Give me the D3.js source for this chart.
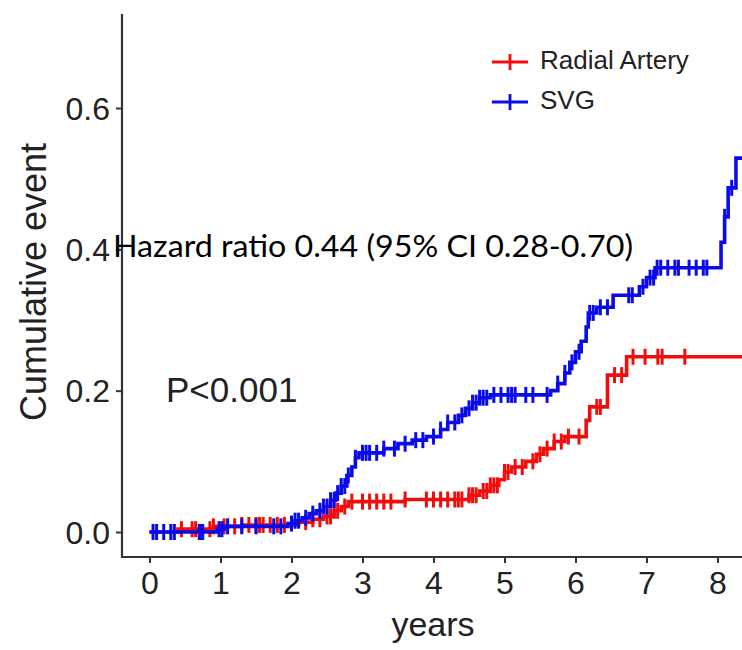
<!DOCTYPE html>
<html><head><meta charset="utf-8">
<script src="https://cdn.jsdelivr.net/npm/d3@7"></script>
<style>body{margin:0;background:#fff}svg{display:block}</style>
</head><body><svg id="c" width="742" height="650"></svg>
<script>
// ---- data ----
const seriesNames = ["Radial Artery", "SVG"];
const seriesColors = ["#f20d0d", "#0b0bea"];
const xTicks = [0,1,2,3,4,5,6,7,8];
const yTicks = [0.0,0.2,0.4,0.6];
const yTickLabels = ["0.0","0.2","0.4","0.6"];

// Radial Artery step points [time, cumulative event]
const raTimes = [0,0.4,0.9,1.3,2.1,2.3,2.45,2.6,2.7,2.8,3.6,4.5,4.65,4.8,4.92,5.0,5.1,5.3,5.45,5.55,5.7,5.85,6.15,6.2,6.45,6.72];
const raValues= [0,0.004,0.008,0.01,0.014,0.018,0.022,0.03,0.036,0.043,0.046,0.052,0.058,0.066,0.074,0.085,0.092,0.1,0.11,0.118,0.128,0.135,0.158,0.177,0.222,0.248];
const raCensor = [0.45,0.6,0.65,0.85,0.9,1.05,1.2,1.3,1.4,1.5,1.55,1.6,1.7,1.8,1.9,2.2,2.3,2.4,2.5,2.55,2.6,2.65,2.75,2.85,3.0,3.1,3.2,3.3,3.4,3.6,3.9,4.0,4.1,4.2,4.3,4.35,4.4,4.5,4.55,4.6,4.7,4.75,4.8,4.85,4.9,5.0,5.05,5.15,5.25,5.4,5.5,5.6,5.7,5.8,5.9,6.05,6.3,6.35,6.55,6.65,6.81,6.98,7.16,7.22,7.54];

// SVG step points
const svgTimes = [0,0.95,1.05,1.95,2.05,2.15,2.25,2.35,2.45,2.55,2.62,2.7,2.78,2.85,2.9,2.95,3.3,3.5,3.7,3.9,4.1,4.2,4.35,4.45,4.55,4.65,4.8,5.65,5.75,5.85,5.92,6.0,6.08,6.15,6.18,6.3,6.53,6.9,7.0,7.12,8.05,8.1,8.15,8.26];
const svgValues= [0,0.004,0.008,0.012,0.016,0.02,0.026,0.03,0.036,0.045,0.055,0.065,0.08,0.092,0.105,0.112,0.118,0.125,0.13,0.135,0.145,0.155,0.165,0.175,0.183,0.19,0.194,0.2,0.21,0.225,0.24,0.255,0.27,0.29,0.31,0.318,0.335,0.347,0.36,0.374,0.41,0.446,0.487,0.529];
const svgCensor = [0.05,0.1,0.2,0.3,0.35,0.7,0.72,0.75,0.98,1.02,1.1,1.3,1.5,1.75,1.85,2.0,2.05,2.1,2.2,2.3,2.4,2.45,2.5,2.55,2.6,2.65,2.7,2.75,2.8,2.9,3.0,3.05,3.1,3.2,3.3,3.45,3.6,3.75,3.85,4.0,4.1,4.2,4.3,4.4,4.5,4.55,4.6,4.65,4.7,4.75,4.85,4.95,5.05,5.1,5.15,5.3,5.4,5.6,5.75,5.85,5.95,6.05,6.2,6.25,6.35,6.45,6.75,6.8,6.95,7.05,7.1,7.15,7.2,7.3,7.4,7.45,7.6,7.7,7.8,7.85,8.1,8.2];

const annotHR = "Hazard ratio 0.44 (95% CI 0.28-0.70)";
const annotP = "P<0.001";
const xTitle = "years";
const yTitle = "Cumulative event";

// ---- drawing ----
(function(){
const svg = d3.select("#c");
const x = d3.scaleLinear().domain([0,8]).range([149.5,717.5]);
const y = d3.scaleLinear().domain([0,0.6]).range([532,108]);
const axisColor = "#333";
const pLeft = 122, pBottom = 557, pTop = 14, pRight = 742;
const font = "'Liberation Sans', Arial, Helvetica, sans-serif";

svg.append("clipPath").attr("id","plot").append("rect")
  .attr("x", pLeft+1).attr("y", 0).attr("width", pRight-pLeft).attr("height", pBottom-1);

const xAxis = d3.axisBottom(x).tickValues(xTicks).tickSize(6).tickPadding(8).tickFormat(d3.format("d"));
const gx = svg.append("g").attr("transform",`translate(0,${pBottom})`).call(xAxis);
gx.select(".domain").remove();
gx.selectAll(".tick line").attr("stroke",axisColor).attr("stroke-width",2);
gx.selectAll(".tick text").attr("font-family",font).attr("font-size",32).attr("fill","#222").attr("dy","0.71em");

const yAxis = d3.axisLeft(y).tickValues(yTicks).tickSize(6).tickPadding(6).tickFormat((d,i)=>yTickLabels[i]);
const gy = svg.append("g").attr("transform",`translate(${pLeft},0)`).call(yAxis);
gy.select(".domain").remove();
gy.selectAll(".tick line").attr("stroke",axisColor).attr("stroke-width",2);
gy.selectAll(".tick text").attr("font-family",font).attr("font-size",32).attr("fill","#222").attr("dy","0.35em");

svg.append("line").attr("x1",pLeft).attr("x2",pLeft).attr("y1",pTop).attr("y2",pBottom+1)
  .attr("stroke",axisColor).attr("stroke-width",2.2);
svg.append("line").attr("x1",pLeft-1).attr("x2",pRight).attr("y1",pBottom).attr("y2",pBottom)
  .attr("stroke",axisColor).attr("stroke-width",2.2);

svg.append("text").attr("x",433).attr("y",627).attr("text-anchor","middle").attr("dominant-baseline","middle")
  .attr("font-family",font).attr("font-size",34).attr("fill","#222").text(xTitle);
svg.append("text").attr("transform","translate(36,282) rotate(-90)").attr("text-anchor","middle")
  .attr("dominant-baseline","middle").attr("font-family",font).attr("font-size",36).attr("fill","#222").text(yTitle);

const plot = svg.append("g").attr("clip-path","url(#plot)");
const line = d3.line().x(d=>x(d[0])).y(d=>y(d[1])).curve(d3.curveStepAfter);
const xEnd = x.invert(pRight+5);
const series = [
  {times: raTimes, values: raValues, censor: raCensor, color: seriesColors[0]},
  {times: svgTimes, values: svgValues, censor: svgCensor, color: seriesColors[1]}
];
const bis = d3.bisector(d=>d).right;
series.forEach(s=>{
  const pts = s.times.map((t,i)=>[t, s.values[i]]);
  pts.push([xEnd, s.values[s.values.length-1]]);
  plot.append("path").attr("d", line(pts)).attr("fill","none")
    .attr("stroke", s.color).attr("stroke-width",3.6);
  const g = plot.append("g");
  s.censor.forEach(t=>{
    const v = s.values[Math.max(0, bis(s.times, t)-1)];
    g.append("line").attr("x1",x(t)).attr("x2",x(t)).attr("y1",y(v)-8).attr("y2",y(v)+8)
      .attr("stroke", s.color).attr("stroke-width",3);
  });
});

seriesNames.forEach((name,i)=>{
  const ly = 62 + i*40;
  svg.append("line").attr("x1",492).attr("x2",528).attr("y1",ly).attr("y2",ly)
    .attr("stroke",seriesColors[i]).attr("stroke-width",3.2);
  svg.append("line").attr("x1",510).attr("x2",510).attr("y1",ly-8).attr("y2",ly+8)
    .attr("stroke",seriesColors[i]).attr("stroke-width",2.8);
  svg.append("text").attr("x",540).attr("y",ly).attr("dominant-baseline","middle")
    .attr("font-family",font).attr("font-size",26).attr("fill","#222").text(name);
});

svg.append("text").attr("x",113).attr("y",249).attr("dominant-baseline","middle")
  .attr("font-family","Lato, 'Open Sans', sans-serif").attr("font-size",30).attr("fill","#000")
  .attr("textLength",520).attr("lengthAdjust","spacingAndGlyphs").text(annotHR);
svg.append("text").attr("x",166).attr("y",393).attr("dominant-baseline","middle")
  .attr("font-family",font).attr("font-size",35).attr("fill","#222").text(annotP);
})();
</script></body></html>
